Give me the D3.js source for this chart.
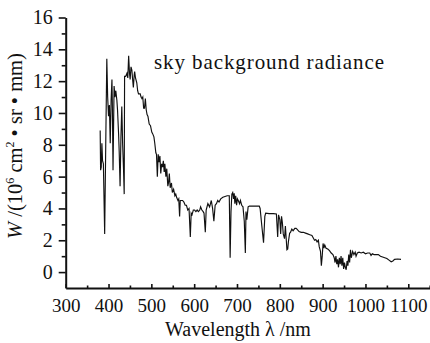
<!DOCTYPE html>
<html><head><meta charset="utf-8">
<script src="https://cdn.jsdelivr.net/npm/d3@7"></script>
<style>body{margin:0;background:#fff}svg{display:block}
svg text{font-family:"Liberation Serif","DejaVu Serif","Times New Roman",serif}</style>
</head><body>
<script>
const wavelength = [380.5,381.5,383,384.5,386,388,391,393.5,396,398,400,402,404,406,408,409,410.5,413,415,417,419.5,421,423.5,425,427,429,431,433,435,436.6,437.5,440,443,445,447,449,450.5,452.5,454.5,456,458,460,461,463,466,468,470,474,476,478,480,482,484,486,488,490,492,495,498,501,503,506,508,510.5,512,514,516,518,520,522,524,526,528,530,531.5,534,536,538.5,540,542,544,547,549,552,555,557,559,562,564,566,567.5,570,573,576,579,582,585,588,591,593,595,598,601,604,607,610,613,615,618,621,623,626,628,632,636,640,643,646,649,652,655,658,662,667,672,677,682,684,686,688,690,692,693.5,695,697,699,701,703,706,708,711,714,717,719.5,721,723,726,729,740,752,754,758,762,765,767,775,785,792,795,797,800,802,804,806,808,811,813,816.6,818.5,820,823,825,828,831,835,838,840,845,850,855,860,865,870,875,881,884,887,890,892,895,897,899,901,903,905,908,912,916,920,924,927,929,931,933,935,937,939,941,943,945,947,949,951,953,955,957,959,961,963,965,967,970,973,976,978,981,985,990,995,1000,1005,1010,1013,1016,1020,1025,1030,1035,1040,1045,1050,1055,1060,1064,1068,1075,1083];
const radiance = [8.9,6.4,6.6,8.1,7.0,6.8,2.4,8.0,13.4,11.0,9.8,10.5,8.1,10.8,12.1,10.4,6.4,11.7,11.0,11.4,10.8,10.2,8.7,7.5,5.4,8.5,10.4,8.0,6.5,4.9,12.3,12.3,12.5,12.2,13.6,12.5,12.1,12.9,12.7,12.2,11.6,12.4,12.6,12.2,11.9,11.4,11.2,11.2,11.0,10.9,11.0,10.3,10.3,10.9,10.2,9.9,9.8,9.3,9.2,8.8,8.7,8.5,8.1,7.5,7.4,6.0,7.4,6.9,7.3,6.2,6.8,6.6,7.0,6.3,6.8,6.0,6.5,5.4,5.6,6.2,5.3,5.6,5.0,5.2,4.8,4.9,4.7,4.5,4.6,3.5,4.5,4.5,4.5,4.4,4.2,4.2,3.9,4.0,2.2,3.7,3.6,3.9,3.9,3.8,3.9,3.8,3.9,4.1,3.9,3.8,3.7,2.5,3.9,4.3,4.1,4.5,4.0,3.2,4.2,4.3,4.5,4.4,4.6,4.7,4.75,4.8,4.8,0.9,3.8,4.9,5.0,4.6,4.95,4.3,4.8,4.2,4.6,4.5,4.3,4.5,4.2,4.1,3.2,1.2,3.8,3.3,4.1,4.15,4.15,4.15,4.0,2.9,1.85,3.5,3.7,3.67,3.67,3.65,2.2,3.6,3.3,2.4,3.5,3.1,2.4,2.1,2.9,1.4,1.45,1.9,2.45,2.5,2.7,2.6,2.75,2.75,2.7,2.55,2.5,2.5,2.45,2.4,2.35,2.3,2.0,2.05,1.9,2.0,1.6,1.3,0.4,1.0,1.8,1.5,1.7,1.5,1.45,1.35,1.2,1.1,0.9,0.6,1.0,0.5,0.8,0.3,0.9,0.5,1.0,0.4,0.9,0.2,0.6,0.3,0.15,0.7,0.4,1.1,0.6,1.4,0.9,1.3,1.1,1.25,1.0,1.2,1.25,1.2,1.25,1.15,1.2,1.2,1.05,1.15,1.1,1.1,1.1,1.0,0.95,0.9,0.85,0.75,0.65,0.7,0.8,0.82,0.8];
const xTicks = [300,400,500,600,700,800,900,1000,1100];
const xMinorTicks = [350,450,550,650,750,850,950,1050,1150];
const yTicks = [0,2,4,6,8,10,12,14,16];
const yMinorTicks = [1,3,5,7,9,11,13,15];
const titleText = "sky background radiance";
const xLabel = "Wavelength λ /nm";

const W = 430, H = 343;
const svg = d3.select("body").append("svg").attr("width", W).attr("height", H);
const x = d3.scaleLinear().domain([300, 1150]).range([65.7, 429.7]);
const y = d3.scaleLinear().domain([-1, 16]).range([288, 17.5]);

const pts = wavelength.map((w, i) => [w, radiance[i]]);
svg.append("path").datum(pts)
  .attr("fill", "none").attr("stroke", "#111").attr("stroke-width", 1.15)
  .attr("d", d3.line().x(d => x(d[0])).y(d => y(d[1])));

const gx = svg.append("g").attr("transform", `translate(0,${y(-1)})`)
  .call(d3.axisBottom(x).tickValues(xTicks).tickSize(-4).tickSizeOuter(0).tickPadding(11).tickFormat(d3.format("d")));
const gxm = svg.append("g").attr("transform", `translate(0,${y(-1)})`)
  .call(d3.axisBottom(x).tickValues(xMinorTicks).tickSize(-2.5).tickSizeOuter(0).tickFormat(""));
const gy = svg.append("g").attr("transform", `translate(${x(300)},0)`)
  .call(d3.axisLeft(y).tickValues(yTicks).tickSize(7).tickSizeOuter(0).tickPadding(6));
const gym = svg.append("g").attr("transform", `translate(${x(300)},0)`)
  .call(d3.axisLeft(y).tickValues(yMinorTicks).tickSize(4).tickSizeOuter(0).tickFormat(""));
gxm.select(".domain").remove();
gym.select(".domain").remove();
[gx, gy].forEach(g => g.select(".domain").attr("stroke", "#111").attr("stroke-width", 2));
[gx, gy, gxm, gym].forEach(g => g.selectAll(".tick line").attr("stroke", "#111").attr("stroke-width", 1.6));
gx.selectAll(".tick text").attr("font-size", 19).attr("fill", "#111");
gy.selectAll(".tick text").attr("font-size", 20).attr("fill", "#111");
gx.attr("font-family", null); gy.attr("font-family", null);

svg.append("text").attr("x", 154).attr("y", 69).attr("font-size", 21)
  .attr("fill", "#111").attr("textLength", 230).attr("lengthAdjust", "spacing").text(titleText);

svg.append("text").attr("x", 238).attr("y", 336).attr("text-anchor", "middle")
  .attr("font-size", 20).attr("fill", "#111").text(xLabel);

const yl = svg.append("text").attr("transform", "translate(22,146) rotate(-90)")
  .attr("text-anchor", "middle").attr("font-size", 20.5).attr("fill", "#111");
yl.append("tspan").attr("font-style", "italic").text("W");
yl.append("tspan").text(" /(10");
yl.append("tspan").attr("font-size", 12).attr("dy", -8).text("6");
yl.append("tspan").attr("dy", 8).text(" cm");
yl.append("tspan").attr("font-size", 12).attr("dy", -8).text("2");
yl.append("tspan").attr("dy", 8).text(" • sr • mm)");
</script>
</body></html>
